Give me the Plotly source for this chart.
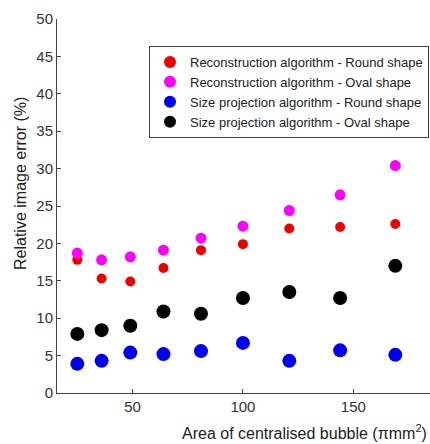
import plotly.graph_objects as go

areas = [25, 36, 49, 64, 81, 100, 121, 144, 169]
recon_round = [17.8, 15.3, 14.9, 16.7, 19.1, 19.9, 22.0, 22.2, 22.6]
recon_oval = [18.7, 17.8, 18.2, 19.1, 20.7, 22.3, 24.4, 26.5, 30.4]
sizeproj_round = [3.9, 4.3, 5.4, 5.2, 5.6, 6.7, 4.3, 5.7, 5.1]
sizeproj_oval = [7.9, 8.4, 9.0, 10.9, 10.6, 12.7, 13.5, 12.7, 17.0]

names = [
    "Reconstruction algorithm - Round shape",
    "Reconstruction algorithm - Oval shape",
    "Size projection algorithm - Round shape",
    "Size projection algorithm - Oval shape",
]
colors = ["#ee0000", "#ff00ff", "#0000ee", "#000000"]
sizes = [10, 11, 14, 14]
series = [recon_round, recon_oval, sizeproj_round, sizeproj_oval]

fig = go.Figure()
for name, ys, c, s in zip(names, series, colors, sizes):
    fig.add_trace(go.Scatter(x=areas, y=ys, mode="markers", name=name,
                             marker=dict(color=c, size=s, line=dict(width=0))))

font = "Liberation Sans, Arial, sans-serif"
W, H, L, R, T, B = 430, 444, 57, 0, 19, 51
pw, ph = W - L - R, H - T - B
fig.update_layout(
    width=W, height=H,
    margin=dict(l=L, r=R, t=T, b=B),
    paper_bgcolor="white", plot_bgcolor="white",
    font=dict(family=font, size=15, color="#333333"),
    showlegend=True,
    legend=dict(x=(429 - L) / pw, y=1 - (46 - T) / ph, xanchor="right", yanchor="top",
                bgcolor="white", bordercolor="#444444", borderwidth=1,
                font=dict(size=13, color="#222222"), tracegroupgap=0,
                itemsizing="constant"),
    xaxis=dict(range=[15.8, 184.7], tickvals=[50, 100, 150], ticks="inside", ticklen=4,
               showgrid=False, zeroline=False, showline=True, linecolor="#444444",
               tickcolor="#444444", tickfont=dict(size=15, color="#333333"), automargin=False),
    yaxis=dict(range=[0, 50], dtick=5, ticks="inside", ticklen=4,
               showgrid=False, zeroline=False, showline=True, linecolor="#444444",
               tickcolor="#444444", tickfont=dict(size=15, color="#333333"), automargin=False),
    annotations=[
        dict(text="Area of centralised bubble (\u03c0mm<sup>2</sup>)", x=(304 - L) / pw, xref="paper",
             y=-(432 - T - ph) / ph, yref="paper", yanchor="middle", xanchor="center", showarrow=False,
             font=dict(size=16, color="#222222")),
        dict(text="Relative image error (%)", textangle=-90, x=-(L - 20) / pw, xref="paper",
             y=1 - (184 - T) / ph, yref="paper", xanchor="center", yanchor="middle", showarrow=False,
             font=dict(size=16, color="#222222")),
    ],
)
fig.write_html("out.html")
